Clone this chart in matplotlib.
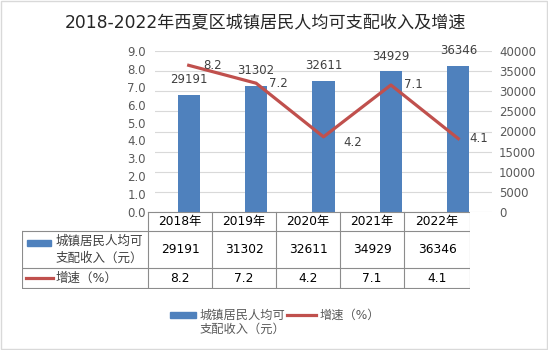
import matplotlib.pyplot as plt
from matplotlib.patches import Rectangle

plt.rcParams['font.family'] = ['DejaVu Sans', 'Noto Sans CJK SC']

years = ['2018年', '2019年', '2020年', '2021年', '2022年']
income = [29191, 31302, 32611, 34929, 36346]
growth = [8.2, 7.2, 4.2, 7.1, 4.1]
income_label = '城镇居民人均可\n支配收入（元）'
growth_label = '增速（%）'
title = '2018-2022年西夏区城镇居民人均可支配收入及增速'

BAR_C = '#4F81BD'
LINE_C = '#C0504D'
GRID_C = '#D9D9D9'
TXT_C = '#404040'
FS = 8.5

W, H = 548, 350
fig = plt.figure(figsize=(W / 100, H / 100), dpi=100)


def box(l, t, r, b):
    # pixel box (from top-left) -> figure fraction rect
    return [l / W, 1 - b / H, (r - l) / W, (b - t) / H]


fig.patches.append(Rectangle((0.001, 0.002), 0.997, 0.995, transform=fig.transFigure,
                             fill=False, edgecolor='#D9D9D9', linewidth=1))

fig.text(265 / W, 1 - 22 / H, title, ha='center', va='center', fontsize=12.3, color='#262626')

# main chart: bars on right axis, line on left axis
ax = fig.add_axes(box(155, 51, 492, 212))
ax2 = ax.twinx()
ax.set_zorder(ax2.get_zorder() + 1)
ax.patch.set_visible(False)

x = list(range(len(years)))
ax2.bar(x, income, width=0.33, color=BAR_C, zorder=2)
ax2.set_ylim(0, 40000)
ax2.set_yticks(range(0, 40001, 5000))
for xi, v in zip(x, income):
    ax2.annotate(str(v), (xi, v), xytext=(0, 11), textcoords='offset points',
                 ha='center', va='center', fontsize=FS, color=TXT_C)

ax.plot(x, growth, color=LINE_C, linewidth=2.3, zorder=3)
ax.set_ylim(0, 9)
ax.set_yticks([i * 1.0 for i in range(10)])
ax.set_yticklabels(['%.1f' % (i * 1.0) for i in range(10)])
offsets = [(17, 0), (16, 0), (21, -4), (16.5, 0), (14.5, 0)]
for xi, v, off in zip(x, growth, offsets):
    ax.annotate('%.1f' % v, (xi, v), xytext=off, textcoords='offset points',
                ha='center', va='center', fontsize=FS, color=TXT_C)

ax.set_xlim(-0.5, 4.5)
ax.set_xticks([])
ax2.grid(axis='y', color=GRID_C, linewidth=0.8, zorder=0)
ax2.set_axisbelow(True)
for a in (ax, ax2):
    for s in a.spines.values():
        s.set_visible(False)
    a.tick_params(length=0, labelsize=FS, labelcolor='#595959')
ax.tick_params(pad=6.5)
ax2.tick_params(pad=5)

# data table
tab = fig.add_axes(box(22, 210, 470, 289))
tab.set_xlim(22, 470)
tab.set_ylim(289, 210)
tab.axis('off')
cols = [148, 212, 276, 340, 404, 470]
rows = [212, 231, 268, 288]
lc = '#8C8C8C'
for cx in cols:
    tab.plot([cx, cx], [rows[0], rows[-1]], color=lc, lw=0.8)
tab.plot([22, 22], [rows[1], rows[-1]], color=lc, lw=0.8)
tab.plot([148, 470], [rows[0], rows[0]], color=lc, lw=0.8)
for ry in rows[1:]:
    tab.plot([22, 470], [ry, ry], color=lc, lw=0.8)
for i in range(len(years)):
    cx = (cols[i] + cols[i + 1]) / 2
    tab.text(cx, (rows[0] + rows[1]) / 2, years[i], ha='center', va='center', fontsize=8.8, color='black')
    tab.text(cx, (rows[1] + rows[2]) / 2, str(income[i]), ha='center', va='center', fontsize=8.8, color='black')
    tab.text(cx, (rows[2] + rows[3]) / 2, '%.1f' % growth[i], ha='center', va='center', fontsize=8.8, color='black')
tab.add_patch(Rectangle((27, 240), 24, 6, color=BAR_C))
tab.text(56, (rows[1] + rows[2]) / 2, income_label, ha='left', va='center', fontsize=9,
         color=TXT_C, linespacing=1.4)
tab.plot([26, 53], [278, 278], color=LINE_C, lw=2.3)
tab.text(56, 278, growth_label, ha='left', va='center', fontsize=9, color=TXT_C)

# legend at bottom
leg = fig.add_axes(box(150, 300, 420, 340))
leg.set_xlim(150, 420)
leg.set_ylim(340, 300)
leg.axis('off')
leg.add_patch(Rectangle((170, 312), 26, 6, color=BAR_C))
leg.text(200, 315, '城镇居民人均可', ha='left', va='center', fontsize=8.8, color='#595959')
leg.text(200, 329, '支配收入（元）', ha='left', va='center', fontsize=8.8, color='#595959')
leg.plot([287, 316], [315, 315], color=LINE_C, lw=2.3)
leg.text(320, 315, growth_label, ha='left', va='center', fontsize=8.8, color='#595959')

fig.savefig('out.png', dpi=100)
